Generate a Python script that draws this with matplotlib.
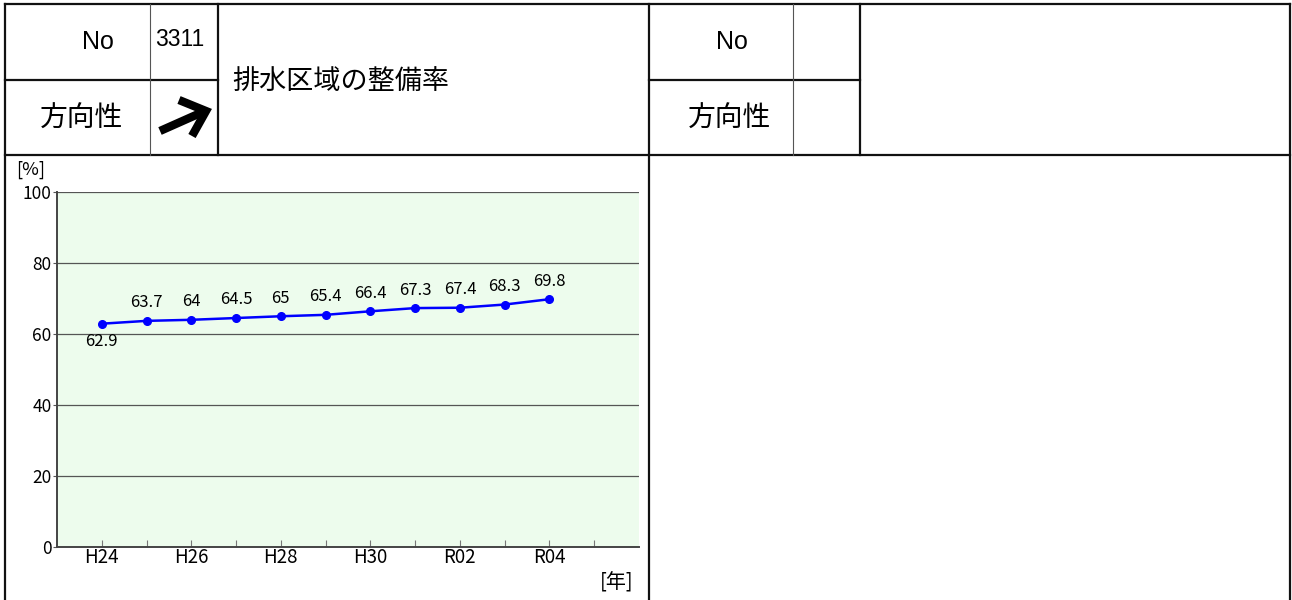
#!/usr/bin/env python
"""排水区域の整備率 sheet: header table + yearly line chart."""
import matplotlib
matplotlib.use("Agg")
import matplotlib.pyplot as plt  # noqa: E402
from matplotlib import font_manager  # noqa: E402

# ---- data -------------------------------------------------------------
years = ["H24", "H25", "H26", "H27", "H28", "H29", "H30",
         "R01", "R02", "R03", "R04", "R05"]
tick_labels = ["H24", "", "H26", "", "H28", "", "H30",
               "", "R02", "", "R04", ""]
rates = [62.9, 63.7, 64.0, 64.5, 65.0, 65.4, 66.4, 67.3, 67.4, 68.3, 69.8]
rate_labels = ["62.9", "63.7", "64", "64.5", "65", "65.4", "66.4",
               "67.3", "67.4", "68.3", "69.8"]
y_ticks = [0, 20, 40, 60, 80, 100]

item_no = "3311"
item_title = "排水区域の整備率"

W, H = 1292, 600
JP = ["Noto Sans CJK JP", "DejaVu Sans"]
_names = {f.name for f in font_manager.fontManager.ttflist}
NARROW = ["Liberation Sans Narrow"] if "Liberation Sans Narrow" in _names else ["Liberation Sans"]

fig = plt.figure(figsize=(W / 100, H / 100), dpi=100, facecolor="white")

# full-figure overlay in pixel coords (y down) for the table frame
frame = fig.add_axes([0, 0, 1, 1], zorder=5)
frame.set_xlim(0, W)
frame.set_ylim(H, 0)
frame.axis("off")
frame.patch.set_alpha(0)


def hline(y, x0, x1, lw=1.6, c="#111"):
    frame.plot([x0, x1], [y, y], color=c, lw=lw, solid_capstyle="projecting")


def vline(x, y0, y1, lw=1.6, c="#111"):
    frame.plot([x, x], [y0, y1], color=c, lw=lw, solid_capstyle="projecting")


# outer frame + header rows
hline(4, 5, 1290)
hline(155, 5, 1290)
hline(80, 5, 218)
hline(80, 649, 860)
vline(5, 4, 600)
vline(1290, 4, 600)
vline(649, 4, 600)
vline(218, 4, 155)
vline(860, 4, 155)
vline(150, 4, 155, lw=0.8, c="#555")
vline(793, 4, 155, lw=0.8, c="#555")

# header texts
frame.text(98, 42, "No", ha="center", va="center", fontsize=18, family=NARROW)
frame.text(732, 42, "No", ha="center", va="center", fontsize=18, family=NARROW)
frame.text(81, 119, "方向性", ha="center", va="center", fontsize=20, family=JP)
frame.text(729, 119, "方向性", ha="center", va="center", fontsize=20, family=JP)
frame.text(180, 40, item_no, ha="center", va="center", fontsize=16.5, family=NARROW)
frame.text(232, 81, item_title, ha="left", va="center", fontsize=19.5, family=JP)

# direction arrow (up-right)
frame.plot([160, 205], [131, 111], color="black", lw=6, solid_capstyle="butt")
frame.plot([179, 206, 192], [100, 111, 136], color="black", lw=6,
           solid_joinstyle="miter", solid_capstyle="butt")

# unit labels
frame.text(16, 170, "[%]", ha="left", va="center", fontsize=13, family=JP)
frame.text(633, 583, "[年]", ha="right", va="center", fontsize=14.5, family=JP)

# ---- chart ------------------------------------------------------------
x0, x1, ytop, ybot = 57, 639, 192, 547
ax = fig.add_axes([x0 / W, (H - ybot) / H, (x1 - x0) / W, (ybot - ytop) / H])
ax.set_facecolor("#edfced")
ax.set_xlim(-1, len(years))
ax.set_ylim(0, 100)

ax.set_yticks(y_ticks)
ax.set_yticklabels([str(v) for v in y_ticks], family=JP, fontsize=12.5)
ax.set_xticks(range(len(years)))
ax.set_xticklabels(tick_labels, family=JP, fontsize=13.5)
ax.tick_params(axis="y", length=3, color="#555", pad=1)
ax.tick_params(axis="x", direction="in", length=5, color="#777", pad=0)
ax.grid(axis="y", color="#555", lw=0.9)
ax.set_axisbelow(True)
for s in ("top", "right"):
    ax.spines[s].set_visible(False)
for s in ("left", "bottom"):
    ax.spines[s].set_color("#444")
    ax.spines[s].set_linewidth(1.4)

xs = list(range(len(rates)))
ax.plot(xs, rates, color="#0000ff", lw=1.8, marker="o", ms=5.5, zorder=3)
for i, (v, lab) in enumerate(zip(rates, rate_labels)):
    dy = -13 if i == 0 else 13
    ax.annotate(lab, (i, v), xytext=(0, dy), textcoords="offset points",
                ha="center", va="center", fontsize=12, family=JP)

fig.savefig("out.png", dpi=100, facecolor="white")
